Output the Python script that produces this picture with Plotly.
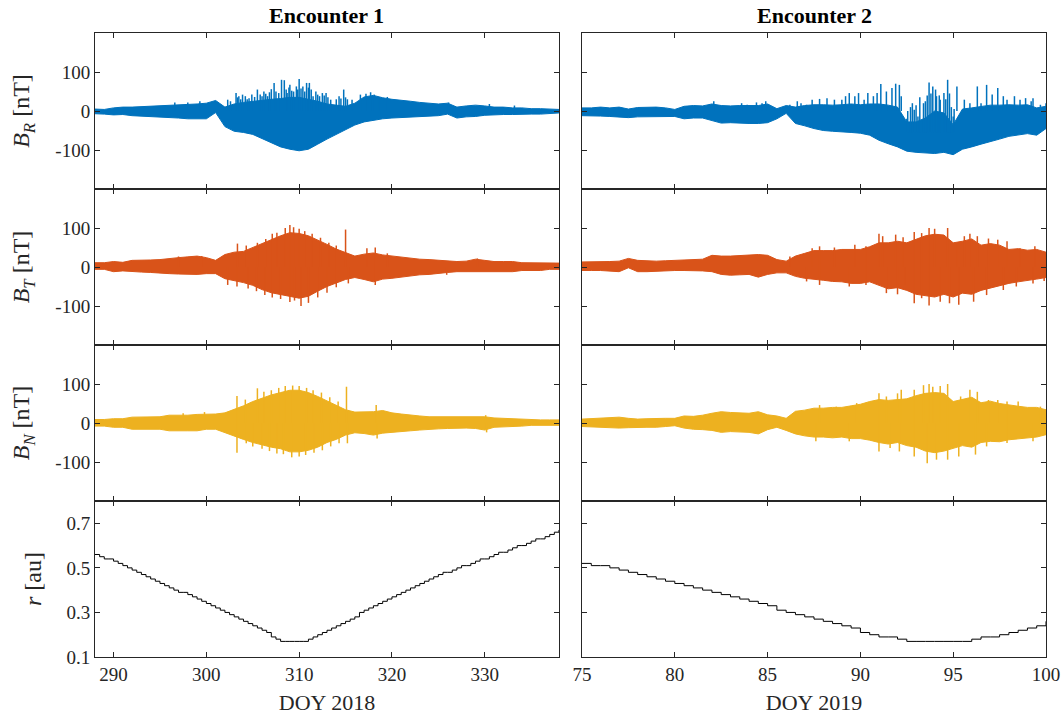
import numpy as np
import plotly.graph_objects as go
from plotly.subplots import make_subplots

# ---------------- data ----------------
doy1 = list(range(288, 339))                             # Encounter 1, 1-day samples
doy1h = [float(v) for v in np.arange(288, 338.01, 0.5)]  # Encounter 1, half-day samples (r)
doy2 = [float(v) for v in np.arange(75, 100.01, 0.5)]    # Encounter 2, half-day samples

# Encounter 1 : solid part of each field component (upper / lower) [nT]
br1_hi = [5, 4, 8, 10, 10, 11, 12, 13, 14, 16, 17, 18, 20, 27, 10, 18, 22, 25, 28, 30,
          32, 35, 35, 30, 25, 18, 15, 12, 20, 36, 40, 34, 30, 28, 25, 22, 20, 18, 20, 10,
          13, 15, 13, 10, 10, 8, 8, 6, 6, 5, 4]
br1_lo = [-7, -8, -10, -9, -12, -13, -14, -15, -17, -18, -20, -20, -20, -4, -40, -52, -55, -60, -70, -82,
          -92, -98, -102, -98, -85, -72, -58, -48, -36, -28, -24, -20, -18, -16, -15, -14, -13, -12, -8, -18,
          -15, -14, -11, -10, -9, -9, -9, -8, -8, -7, -5]
bt1_hi = [11, 11, 14, 12, 17, 17, 18, 19, 22, 24, 26, 28, 24, 17, 32, 38, 40, 50, 60, 72,
          80, 88, 86, 80, 70, 58, 46, 36, 28, 33, 36, 31, 28, 26, 22, 20, 19, 17, 15, 14,
          15, 20, 17, 14, 14, 14, 11, 11, 11, 10, 10]
bt1_lo = [-6, -6, -12, -10, -12, -13, -14, -15, -17, -18, -19, -19, -17, -17, -30, -35, -40, -47, -58, -66,
          -70, -75, -80, -75, -62, -50, -40, -32, -27, -32, -38, -31, -29, -27, -23, -20, -19, -17, -14, -12,
          -12, -12, -12, -12, -12, -12, -9, -9, -9, -6, -6]
bn1_hi = [9, 9, 11, 11, 15, 15, 15, 16, 20, 20, 20, 22, 23, 23, 26, 34, 44, 55, 64, 72,
          78, 84, 84, 78, 68, 56, 44, 34, 28, 29, 29, 32, 26, 23, 20, 18, 16, 16, 15, 15,
          16, 15, 16, 13, 12, 11, 9, 8, 8, 8, 8]
bn1_lo = [-8, -8, -11, -11, -16, -16, -16, -16, -20, -20, -20, -20, -16, -16, -26, -34, -42, -50, -56, -62,
          -66, -74, -74, -70, -62, -50, -42, -31, -25, -27, -31, -26, -25, -22, -20, -18, -16, -15, -14, -13,
          -13, -14, -18, -11, -9, -9, -8, -6, -6, -6, -6]

# Encounter 2 : solid part (upper / lower) [nT]
br2_hi = [8, 8, 10, 8, 10, 5, 9, 10, 10, 8, 4, 12, 14, 13, 18, 14, 13, 14, 14, 14,
          18, 6, 14, 10, 14, 16, 16, 15, 16, 18, 16, 18, 18, 15, 10, -28, -28, -18, 0, -5,
          -35, 5, 8, 12, 15, 15, 16, 15, 16, 8, 12]
br2_lo = [-12, -12, -13, -14, -15, -17, -15, -15, -15, -14, -14, -20, -18, -18, -24, -31, -30, -31, -32, -32,
          -30, -20, -6, -32, -38, -45, -50, -52, -54, -55, -57, -62, -75, -84, -92, -103, -106, -108, -109, -106,
          -112, -98, -92, -85, -78, -72, -65, -62, -58, -62, -45]
bt2_hi = [13, 13, 13, 14, 15, 22, 17, 16, 15, 16, 17, 18, 19, 20, 30, 28, 28, 29, 30, 32,
          30, 19, 15, 28, 35, 42, 42, 42, 45, 45, 45, 52, 62, 62, 66, 62, 70, 80, 84, 82,
          62, 66, 72, 56, 60, 56, 45, 47, 43, 45, 38]
bt2_lo = [-9, -9, -9, -10, -12, -2, -12, -12, -12, -10, -9, -9, -9, -10, -12, -19, -21, -20, -19, -26,
          -19, -15, -15, -24, -29, -31, -34, -37, -38, -42, -42, -38, -48, -56, -53, -60, -70, -74, -77, -70,
          -77, -67, -70, -60, -53, -48, -42, -38, -34, -31, -27]
bn2_hi = [10, 11, 12, 13, 15, 12, 10, 11, 12, 12, 12, 18, 17, 20, 25, 29, 27, 26, 25, 29,
          21, 18, 12, 30, 33, 38, 38, 40, 40, 44, 48, 55, 60, 58, 60, 62, 70, 76, 78, 76,
          55, 60, 66, 52, 56, 50, 46, 43, 40, 40, 34]
bn2_lo = [-9, -10, -11, -12, -13, -12, -11, -11, -11, -9, -7, -13, -16, -17, -19, -24, -22, -23, -24, -28,
          -17, -11, -19, -28, -33, -36, -36, -38, -36, -40, -40, -44, -50, -54, -50, -58, -62, -72, -76, -72,
          -66, -58, -62, -50, -47, -48, -43, -40, -38, -36, -30]

# Individual spikes standing out of the solid part: day, top, bottom [nT]
br1_sp_x = [296.6, 298.0, 299.3, 302.3, 302.6, 303.2, 303.35, 303.5, 303.7, 303.9, 304.2, 304.4, 304.6,
            304.9, 305.2, 305.5, 305.8, 306.0, 306.2, 306.4, 306.6, 306.8, 307.0, 307.3, 307.5, 307.8,
            308.1, 308.4, 308.6, 308.7, 308.9, 309.0, 309.2, 309.4, 309.7, 309.85, 310.0, 310.2, 310.4,
            310.6, 310.8, 311.0, 311.1, 311.3, 311.5, 311.8, 312.0, 312.2, 312.5, 312.7, 312.9, 313.1,
            313.4, 314.0, 314.3, 314.5, 314.8, 315.0, 315.2, 315.7, 316.6, 317.2, 317.7, 318.1, 318.6,
            319.5, 326.1, 330.5, 333.2]
br1_sp_top = [22, 22, 25, 29, 25, 46, 35, 38, 30, 42, 38, 30, 33, 42, 36, 55, 42, 38, 50, 44, 38, 48, 56,
              72, 50, 46, 80, 79, 55, 46, 60, 67, 52, 50, 63, 55, 82, 58, 63, 50, 72, 60, 72, 55, 38, 50,
              42, 38, 46, 40, 46, 35, 29, 30, 38, 32, 55, 35, 30, 29, 42, 44, 48, 42, 36, 36, 22, 18, 14]
br1_sp_bot = [0] * len(br1_sp_x)

bt1_sp_x = [297.0, 299.5, 303.35, 304.3, 305.5, 306.4, 307.1, 307.6, 308.5, 309.0, 309.4, 310.0, 310.6,
            311.4, 312.3, 313.2, 314.0, 315.0, 317.3, 318.2, 319.5, 329.2,
            302.3, 303.3, 304.5, 305.4, 306.3, 307.1, 308.0, 309.0, 309.5, 310.2, 311.0, 312.0, 313.0,
            314.0, 315.3, 318.2, 325.9]
bt1_sp_top = [27, 28, 60, 55, 62, 72, 85, 88, 100, 108, 102, 98, 92, 85, 75, 62, 55, 96, 48, 50, 35, 22,
              0, 0, 0, 0, 0, 0, 0, 0, 0, 0, 0, 0, 0, 0, 0, 0, 0]
bt1_sp_bot = [0] * 22 + [-46, -50, -55, -62, -72, -78, -82, -90, -86, -100, -92, -78, -66, -52, -42, -46, -20]

bn1_sp_x = [297.5, 299.8, 303.3, 304.2, 305.5, 306.2, 307.0, 307.8, 308.5, 309.3, 310.0, 310.8, 311.5,
            312.4, 313.3, 314.2, 315.1, 318.3, 330.1,
            303.3, 304.3, 305.0, 306.0, 306.8, 307.6, 308.3, 309.2, 310.0, 310.7, 311.6, 312.5, 313.4,
            314.3, 315.2, 318.4, 330.2]
bn1_sp_top = [25, 28, 69, 60, 89, 80, 84, 90, 95, 96, 95, 90, 84, 78, 66, 55, 93, 46, 20,
              0, 0, 0, 0, 0, 0, 0, 0, 0, 0, 0, 0, 0, 0, 0, 0, 0, 0]
bn1_sp_bot = [0] * 19 + [-76, -52, -60, -66, -72, -78, -80, -88, -86, -82, -76, -70, -60, -52, -52, -40, -24]

br2_sp_x = [82.1, 83.6, 83.9, 84.4, 84.7, 84.9, 86.2, 86.6, 86.8, 87.1, 87.4, 87.8, 88.2, 88.6, 89.0,
            89.2, 89.4, 89.7, 89.9, 90.2, 90.4, 90.7, 90.9, 91.1, 91.4, 91.7, 91.9, 92.1, 92.2,
            92.5, 92.55, 92.7, 92.8, 92.9, 93.0, 93.1, 93.2, 93.4, 93.5, 93.6, 93.7, 93.8, 93.9,
            94.05, 94.1, 94.25, 94.3, 94.5, 94.6, 94.7, 94.8, 94.9, 95.0, 95.05,
            95.2, 95.6, 95.9, 96.3, 96.5, 96.8, 97.1, 97.4, 97.7, 97.9, 98.3, 98.6, 98.9, 99.2,
            99.3, 99.7, 100.0]
br2_sp_top = [25, 20, 16, 22, 20, 25, 16, 25, 20, 16, 29, 31, 33, 29, 29, 38, 46, 38, 46, 29, 46, 38,
              46, 69, 50, 59, 70, 67, 38,
              -20, 0, 10, 20, 3, 15, -14, 35, 20, 25, 40, 73, 45, 63,
              55, 38, 40, 29, 46, 30, 80, 45, 10, -14, 5,
              63, 29, 20, 63, 20, 67, 42, 59, 38, 29, 38, 29, 33, 25, 33, 16, 20]
br2_sp_bot = [0] * 29 + [-55] * 25 + [0] * 17

bt2_sp_x = [86.2, 87.4, 87.8, 88.6, 89.7, 90.3, 91.0, 91.2, 91.9, 92.3, 92.9, 93.3, 93.7, 94.0, 94.7,
            95.2, 95.6, 95.9, 96.3, 96.9, 97.4, 97.9, 98.6, 99.4,
            87.1, 87.8, 89.4, 90.3, 91.4, 92.0, 92.4, 92.9, 93.3, 93.7, 94.3, 94.8, 95.3, 96.1, 96.8,
            97.7, 98.4, 99.3, 99.9]
bt2_sp_top = [27, 48, 53, 50, 57, 53, 85, 79, 83, 76, 90, 87, 100, 98, 100, 59, 79, 85, 79, 73, 70, 66,
              48, 53] + [0] * 19
bt2_sp_bot = [0] * 24 + [-37, -46, -50, -46, -67, -70, -46, -93, -80, -99, -89, -93, -97, -89, -72,
                         -59, -50, -42, -36]

bn2_sp_x = [87.8, 88.7, 89.8, 91.0, 91.4, 92.0, 92.2, 92.9, 93.4, 93.7, 93.9, 94.3, 94.7, 95.4, 95.9,
            96.3, 96.9, 97.4, 97.9, 98.5, 99.7,
            87.6, 89.4, 91.0, 91.6, 92.1, 92.9, 93.6, 94.1, 94.7, 95.3, 96.2, 96.8, 97.9, 99.3]
bn2_sp_top = [46, 42, 51, 76, 68, 76, 85, 85, 97, 100, 93, 95, 100, 68, 85, 80, 59, 59, 55, 55, 42] + [0] * 14
bn2_sp_bot = [0] * 21 + [-47, -47, -73, -64, -73, -86, -103, -94, -94, -86, -81, -60, -51, -47]

# Heliocentric distance [au] (rounded to 0.01, hence the staircase)
r1 = [0.56, 0.55, 0.54, 0.54, 0.53, 0.52, 0.51, 0.50, 0.49, 0.48,
      0.47, 0.46, 0.45, 0.44, 0.43, 0.42, 0.41, 0.40, 0.39, 0.39,
      0.38, 0.37, 0.36, 0.35, 0.34, 0.33, 0.32, 0.31, 0.30, 0.29,
      0.28, 0.27, 0.26, 0.25, 0.24, 0.23, 0.22, 0.21, 0.19, 0.18,
      0.17, 0.17, 0.17, 0.17, 0.17, 0.17, 0.18, 0.19, 0.20, 0.21,
      0.22, 0.23, 0.24, 0.25, 0.26, 0.27, 0.28, 0.30, 0.31, 0.32,
      0.33, 0.34, 0.35, 0.36, 0.37, 0.38, 0.39, 0.40, 0.41, 0.42,
      0.43, 0.44, 0.45, 0.46, 0.47, 0.48, 0.48, 0.49, 0.50, 0.51,
      0.51, 0.52, 0.53, 0.54, 0.54, 0.55, 0.56, 0.57, 0.57, 0.58,
      0.59, 0.60, 0.60, 0.61, 0.62, 0.63, 0.63, 0.64, 0.65, 0.66,
      0.67]
r2 = [0.52, 0.51, 0.51, 0.50, 0.49, 0.48, 0.47, 0.46, 0.45, 0.44, 0.43, 0.42, 0.41, 0.40, 0.39,
      0.38, 0.37, 0.36, 0.35, 0.34, 0.33, 0.31, 0.30, 0.29, 0.28, 0.27, 0.26, 0.25, 0.24, 0.23,
      0.21, 0.20, 0.19, 0.19, 0.18, 0.17, 0.17, 0.17, 0.17, 0.17, 0.17, 0.17, 0.18, 0.19, 0.19,
      0.20, 0.21, 0.22, 0.23, 0.24, 0.26]

titles = ["Encounter 1", "Encounter 2"]
xtitles = ["DOY 2018", "DOY 2019"]
ytitles = ["<i>B</i><sub><i>R</i></sub> [nT]", "<i>B</i><sub><i>T</i></sub> [nT]",
           "<i>B</i><sub><i>N</i></sub> [nT]", "<i>r</i> [au]"]
xticks1 = [290, 300, 310, 320, 330]
xticks2 = [75, 80, 85, 90, 95, 100]
bticks = [-100, 0, 100]
bticktext = ["-100", "0", "100"]
rticks = [0.1, 0.3, 0.5, 0.7]
rticktext = ["0.1", "0.3", "0.5", "0.7"]

C_R = "#0072BD"
C_T = "#D95319"
C_N = "#EDB120"
AX = "#262626"
FONT = "Liberation Serif"

fig = make_subplots(rows=4, cols=2, horizontal_spacing=0.0242, vertical_spacing=0.0)


def band(x, hi, lo, color, row, col):
    fig.add_trace(go.Scatter(x=list(x) + list(x)[::-1], y=list(hi) + list(lo)[::-1],
                             fill="toself", fillcolor=color, mode="lines",
                             line=dict(color=color, width=1), hoverinfo="skip",
                             showlegend=False), row=row, col=col)


def spikes(sx, top, bot, color, row, col):
    xs, ys = [], []
    for a, t, b in zip(sx, top, bot):
        xs += [a, a, None]
        ys += [b, t, None]
    fig.add_trace(go.Scatter(x=xs, y=ys, mode="lines", line=dict(color=color, width=1.5),
                             hoverinfo="skip", showlegend=False), row=row, col=col)


band(doy1, br1_hi, br1_lo, C_R, 1, 1)
spikes(br1_sp_x, br1_sp_top, br1_sp_bot, C_R, 1, 1)
band(doy2, br2_hi, br2_lo, C_R, 1, 2)
spikes(br2_sp_x, br2_sp_top, br2_sp_bot, C_R, 1, 2)
band(doy1, bt1_hi, bt1_lo, C_T, 2, 1)
spikes(bt1_sp_x, bt1_sp_top, bt1_sp_bot, C_T, 2, 1)
band(doy2, bt2_hi, bt2_lo, C_T, 2, 2)
spikes(bt2_sp_x, bt2_sp_top, bt2_sp_bot, C_T, 2, 2)
band(doy1, bn1_hi, bn1_lo, C_N, 3, 1)
spikes(bn1_sp_x, bn1_sp_top, bn1_sp_bot, C_N, 3, 1)
band(doy2, bn2_hi, bn2_lo, C_N, 3, 2)
spikes(bn2_sp_x, bn2_sp_top, bn2_sp_bot, C_N, 3, 2)

fig.add_trace(go.Scatter(x=doy1h, y=r1, mode="lines", line=dict(color="black", width=1, shape="hv"),
                         showlegend=False, hoverinfo="skip"), row=4, col=1)
fig.add_trace(go.Scatter(x=doy2, y=r2, mode="lines", line=dict(color="black", width=1, shape="hv"),
                         showlegend=False, hoverinfo="skip"), row=4, col=2)

common = dict(showline=True, linecolor=AX, linewidth=1, mirror="ticks", ticks="inside",
              ticklen=5, tickwidth=1, tickcolor=AX, showgrid=False, zeroline=False,
              automargin=False, tickfont=dict(family=FONT, size=19, color=AX))

for row in range(1, 5):
    for col in (1, 2):
        xa = dict(common)
        if col == 1:
            xa.update(range=[288, 338], tickvals=xticks1)
        else:
            xa.update(range=[75, 100], tickvals=xticks2)
        xa["showticklabels"] = (row == 4)
        if row == 4:
            xa["title"] = dict(text=xtitles[col - 1], font=dict(family=FONT, size=22, color=AX),
                               standoff=12)
        fig.update_xaxes(xa, row=row, col=col)

        ya = dict(common)
        if row < 4:
            ya.update(range=[-200, 200], tickvals=bticks, ticktext=bticktext)
        else:
            ya.update(range=[0.1, 0.8], tickvals=rticks, ticktext=rticktext)
        ya["showticklabels"] = (col == 1)
        if col == 1:
            ya["title"] = dict(text=ytitles[row - 1], font=dict(family=FONT, size=24, color=AX),
                               standoff=18)
        fig.update_yaxes(ya, row=row, col=col)

# panel titles
dom1 = fig.layout.xaxis.domain
dom2 = fig.layout.xaxis2.domain
for dom, t in ((dom1, titles[0]), (dom2, titles[1])):
    fig.add_annotation(x=(dom[0] + dom[1]) / 2, y=1.0, xref="paper", yref="paper",
                       xanchor="center", yanchor="bottom", yshift=3, showarrow=False,
                       text="<b>" + t + "</b>", font=dict(family=FONT, size=22, color="black"))

fig.update_layout(width=1061, height=715, margin=dict(l=95, r=15, t=33, b=58),
                  paper_bgcolor="white", plot_bgcolor="white", showlegend=False)

fig.write_html("out.html", config={"displayModeBar": False},
               post_script="document.body.style.margin='0px';")
